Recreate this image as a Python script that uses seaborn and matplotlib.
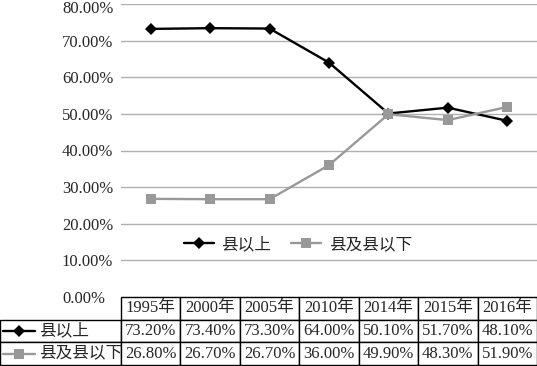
import matplotlib
matplotlib.use('Agg')
import matplotlib.pyplot as plt
import matplotlib.transforms as mtransforms
import numpy as np
import pandas as pd
import seaborn as sns
from matplotlib.lines import Line2D

# Data
years = ['1995年', '2000年', '2005年', '2010年', '2014年', '2015年', '2016年']
above = [73.20, 73.40, 73.30, 64.00, 50.10, 51.70, 48.10]
below = [26.80, 26.70, 26.70, 36.00, 49.90, 48.30, 51.90]
series_names = ['县以上', '县及县以下']
y_ticks = [0, 10, 20, 30, 40, 50, 60, 70, 80]

W, H = 537, 366
FS = 12
sns.set_style('white')
plt.rcParams['font.family'] = ['Liberation Serif', 'Noto Sans CJK SC']
plt.rcParams['font.size'] = FS

styles = [
    dict(color='black', marker='D', markersize=6, linewidth=1.7),
    dict(color='#999999', marker='s', markersize=6.5, linewidth=1.7),
]

fig = plt.figure(figsize=(W / 100, H / 100), dpi=100)
ax_l, ax_r, ax_t, ax_b = 121, 537, 4, 297
ax = fig.add_axes([ax_l / W, 1 - ax_b / H, (ax_r - ax_l) / W, (ax_b - ax_t) / H])
ax_w, ax_h = ax_r - ax_l, ax_b - ax_t

x_pos = np.arange(len(years))
df = pd.DataFrame({'x': x_pos, series_names[0]: above, series_names[1]: below})
for name, st in zip(series_names, styles):
    sns.lineplot(data=df, x='x', y=name, ax=ax, label=name,
                 markeredgewidth=0, **st)

ax.set_xlim(-0.5, len(years) - 0.5)
ax.set_ylim(0, 80)
ax.set_yticks(y_ticks)
ax.set_yticklabels([f'{t:.2f}%' for t in y_ticks])
ax.set_xticks([])
ax.set_xlabel('')
ax.set_ylabel('')
ax.tick_params(axis='y', length=0, pad=42.5)
ylabels = ax.get_yticklabels()
for lbl in ylabels:
    lbl.set_horizontalalignment('left')
    lbl.set_verticalalignment('center_baseline')
# nudge the top label down so it stays inside the figure
ylabels[-1].set_transform(ylabels[-1].get_transform()
                          + mtransforms.ScaledTranslation(0, -3 / 100, fig.dpi_scale_trans))
ax.yaxis.grid(True, color='#b0b0b0', linewidth=1)
ax.set_axisbelow(True)
for sp in ax.spines.values():
    sp.set_visible(False)

ax.legend(loc='center', bbox_to_anchor=((298 - ax_l) / ax_w, (ax_b - 245) / ax_h),
          ncol=2, frameon=False, handlelength=1.8, handletextpad=0.45,
          columnspacing=1.2, fontsize=FS)

# Data table below the plot
cell_text = [[''] + [f'{v:.2f}%' for v in vals] for vals in (above, below)]
lab_w = ax_l / ax_w
tbl = ax.table(cellText=cell_text, colLabels=[''] + years,
               colWidths=[lab_w] + [1 / len(years)] * len(years),
               cellLoc='center', colLoc='center',
               bbox=[-lab_w, -(365 - ax_b) / ax_h, W / ax_w, (365 - ax_b) / ax_h])
tbl.auto_set_font_size(False)
tbl.set_fontsize(FS)
for (r, c), cell in tbl.get_celld().items():
    cell.set_linewidth(1)
    cell.set_edgecolor('black')
    cell.PAD = 0.02
tbl[0, 0].visible_edges = ''

# Row labels with legend keys
row_h = (365 - ax_b) / 3
for i, (name, st) in enumerate(zip(series_names, styles)):
    yc = 1 - (ax_b + row_h * (i + 1.5)) / H
    fig.add_artist(Line2D([3 / W, 19 / W, 35 / W], [yc, yc, yc], color=st['color'],
                          linewidth=st['linewidth'], marker=st['marker'],
                          markersize=st['markersize'], markeredgewidth=0,
                          markevery=[1]))
    fig.text(39 / W, yc, name, ha='left', va='center', fontsize=FS)

fig.savefig('out.png', dpi=100)
